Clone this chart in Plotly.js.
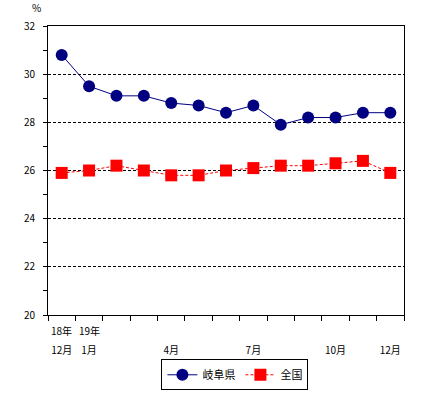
<!DOCTYPE html>
<html><head><meta charset="utf-8">
<script src="https://cdn.plot.ly/plotly-3.0.1.min.js"></script>
<style>body{margin:0;padding:0;background:#fff}#chart{width:430px;height:397px}</style>
</head><body><div id="chart"></div>
<script>
const categories = ["18年12月","19年1月","2月","3月","4月","5月","6月","7月","8月","9月","10月","11月","12月"];
const tickLabels = ["12月","1月","","","4月","","","7月","","","10月","","12月"];
const yearLabels = ["18年","19年"];
const yearCats = ["18年12月","19年1月"];
const gifu = [30.8, 29.5, 29.1, 29.1, 28.8, 28.7, 28.4, 28.7, 27.9, 28.2, 28.2, 28.4, 28.4];
const national = [25.9, 26.0, 26.2, 26.0, 25.8, 25.8, 26.0, 26.1, 26.2, 26.2, 26.3, 26.4, 25.9];
const seriesNames = ["岐阜県", "全国"];

const font = {family: '"Noto Sans CJK JP", "DejaVu Sans", sans-serif', size: 10, color: '#000'};
const traces = [
  {x: categories, y: gifu, name: seriesNames[0], type: 'scatter', mode: 'lines+markers',
   line: {color: '#000080', width: 1}, marker: {symbol: 'circle', size: 12, color: '#000080'}},
  {x: categories, y: national, name: seriesNames[1], type: 'scatter', mode: 'lines+markers',
   line: {color: '#FF0000', width: 1, dash: '3px,2px'}, marker: {symbol: 'square', size: 12, color: '#FF0000'}}
];
const annotations = [{text: '%', xref: 'paper', yref: 'paper', x: -0.015, y: 1.03, xanchor: 'right', yanchor: 'bottom',
                 showarrow: false, font: {size: 10}}];
yearLabels.forEach((t, i) => annotations.push({text: t, xref: 'x', yref: 'paper', x: yearCats[i], y: -0.055,
  xanchor: 'center', yanchor: 'middle', showarrow: false, font: {size: 10}}));
const layout = {
  width: 430, height: 397,
  margin: {l: 48, r: 26, t: 26, b: 82},
  paper_bgcolor: '#fff', plot_bgcolor: '#fff',
  font: font,
  showlegend: true,
  legend: {orientation: 'h', x: 0.525, xanchor: 'center', yref: 'container', y: 0.095, yanchor: 'top',
           bordercolor: '#000', borderwidth: 1, font: {size: 11}, bgcolor: '#fff'},
  xaxis: {type: 'category', tickmode: 'array', tickvals: categories, ticktext: tickLabels,
          tickson: 'boundaries', ticks: 'outside', ticklen: 5, tickcolor: '#000', tickwidth: 1,
          showline: true, linecolor: '#000', linewidth: 1, mirror: true, showgrid: false,
          range: [-0.5, 12.5], tickangle: 0, tickfont: {size: 10}, automargin: false,
          ticklabelstandoff: 26},
  yaxis: {range: [20, 32], dtick: 2, tick0: 20, ticks: 'outside', ticklen: 4, tickcolor: '#000',
          showline: true, linecolor: '#000', linewidth: 1, mirror: true, automargin: false,
          showgrid: true, gridcolor: '#000', griddash: '3px,2px', gridwidth: 1, zeroline: false,
          minor: {dtick: 1, ticks: 'outside', ticklen: 4, tickcolor: '#000', showgrid: false},
          tickfont: {size: 10}, ticklabelstandoff: 6},
  annotations: annotations
};
Plotly.newPlot('chart', traces, layout, {displayModeBar: false, staticPlot: true});
</script></body></html>
